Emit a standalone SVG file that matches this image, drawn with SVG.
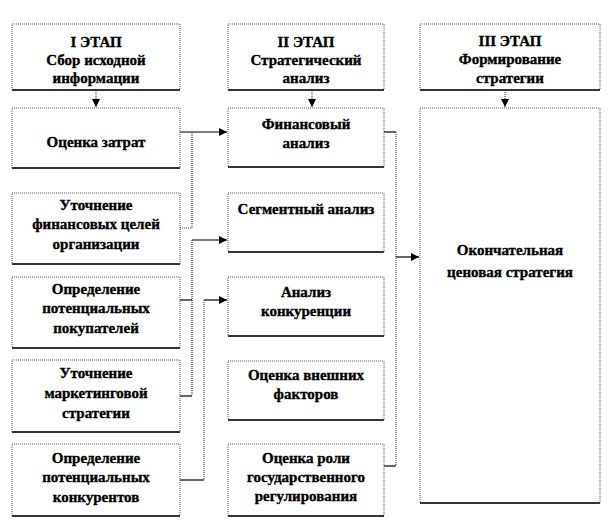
<svg xmlns="http://www.w3.org/2000/svg" width="612" height="528" viewBox="0 0 612 528">
<style>
.box{fill:#fff;stroke:#555;stroke-width:1;stroke-dasharray:1 1}
.base{stroke:#000;stroke-width:1.5}
.h{stroke:#000;stroke-width:1.2;fill:none}
.v{stroke:#444;stroke-width:1.2;stroke-dasharray:1 1;fill:none}
</style>
<defs>
<marker id="ar" viewBox="0 0 8 8" refX="8" refY="4" markerWidth="8" markerHeight="8" markerUnits="userSpaceOnUse" orient="auto">
<path d="M0,0 L8,4 L0,8 z" fill="#000"/>
</marker>
</defs>
<rect width="612" height="528" fill="#fff"/>

<g id="connectors">
<line class="v" x1="96" y1="90" x2="96" y2="107" marker-end="url(#ar)"/>
<line class="v" x1="312" y1="90" x2="312" y2="107" marker-end="url(#ar)"/>
<line class="v" x1="505" y1="90" x2="505" y2="107" marker-end="url(#ar)"/>

<line class="h" x1="180" y1="132" x2="227" y2="132" marker-end="url(#ar)"/>
<polyline class="v" points="180,228 192,228 192,132"/>

<line class="h" x1="192" y1="240" x2="227" y2="240" marker-end="url(#ar)"/>
<line class="v" x1="192" y1="240" x2="192" y2="396"/>
<line class="h" x1="180" y1="300" x2="192" y2="300"/>
<line class="h" x1="180" y1="396" x2="192" y2="396"/>

<line class="h" x1="204" y1="300" x2="227" y2="300" marker-end="url(#ar)"/>
<line class="v" x1="204" y1="300" x2="204" y2="480"/>
<line class="h" x1="180" y1="480" x2="204" y2="480"/>

<line class="h" x1="384" y1="132" x2="396" y2="132"/>
<line class="v" x1="396" y1="132" x2="396" y2="466"/>
<line class="h" x1="384" y1="466" x2="396" y2="466"/>
<line class="h" x1="396" y1="257" x2="419" y2="257" marker-end="url(#ar)"/>
</g>

<g font-family="'Liberation Serif', 'Times New Roman', 'DejaVu Serif', serif" font-weight="bold" font-size="15" text-anchor="middle" fill="#000">
<g id="stage1">
<rect class="box" x="12" y="24" width="168" height="66"/><line class="base" x1="12" y1="90" x2="180" y2="90"/>
<g stroke="#000" stroke-width="0.35"><text x="96" y="47">I ЭТАП</text><text x="96" y="65">Сбор исходной</text><text x="96" y="83">информации</text></g>
</g>
<g id="costs">
<rect class="box" x="12" y="108" width="168" height="60"/><line class="base" x1="12" y1="168" x2="180" y2="168"/>
<g stroke="#000" stroke-width="0.35"><text x="96" y="147">Оценка затрат</text></g>
</g>
<g id="fin-goals">
<rect class="box" x="12" y="193" width="168" height="71"/><line class="base" x1="12" y1="264" x2="180" y2="264"/>
<g stroke="#000" stroke-width="0.35"><text x="96" y="210">Уточнение</text><text x="96" y="229">финансовых целей</text><text x="96" y="249">организации</text></g>
</g>
<g id="buyers">
<rect class="box" x="12" y="277" width="168" height="71"/><line class="base" x1="12" y1="348" x2="180" y2="348"/>
<g stroke="#000" stroke-width="0.35"><text x="96" y="294">Определение</text><text x="96" y="313">потенциальных</text><text x="96" y="333">покупателей</text></g>
</g>
<g id="marketing">
<rect class="box" x="12" y="360" width="168" height="72"/><line class="base" x1="12" y1="432" x2="180" y2="432"/>
<g stroke="#000" stroke-width="0.35"><text x="96" y="378">Уточнение</text><text x="96" y="398">маркетинговой</text><text x="96" y="418">стратегии</text></g>
</g>
<g id="competitors">
<rect class="box" x="12" y="444" width="168" height="72"/><line class="base" x1="12" y1="516" x2="180" y2="516"/>
<g stroke="#000" stroke-width="0.35"><text x="96" y="463">Определение</text><text x="96" y="482">потенциальных</text><text x="96" y="502">конкурентов</text></g>
</g>

<g id="stage2">
<rect class="box" x="228" y="24" width="156" height="66"/><line class="base" x1="228" y1="90" x2="384" y2="90"/>
<g stroke="#000" stroke-width="0.35"><text x="306" y="47">II ЭТАП</text><text x="306" y="65">Стратегический</text><text x="306" y="83">анализ</text></g>
</g>
<g id="fin-analysis">
<rect class="box" x="228" y="108" width="156" height="59"/><line class="base" x1="228" y1="167" x2="384" y2="167"/>
<g stroke="#000" stroke-width="0.35"><text x="306" y="129">Финансовый</text><text x="306" y="148">анализ</text></g>
</g>
<g id="segment">
<rect class="box" x="228" y="193" width="156" height="59"/><line class="base" x1="228" y1="252" x2="384" y2="252"/>
<g stroke="#000" stroke-width="0.35"><text x="306" y="214">Сегментный анализ</text></g>
</g>
<g id="competition">
<rect class="box" x="228" y="277" width="156" height="59"/><line class="base" x1="228" y1="336" x2="384" y2="336"/>
<g stroke="#000" stroke-width="0.35"><text x="306" y="297">Анализ</text><text x="306" y="316">конкуренции</text></g>
</g>
<g id="external">
<rect class="box" x="228" y="361" width="156" height="59"/><line class="base" x1="228" y1="420" x2="384" y2="420"/>
<g stroke="#000" stroke-width="0.35"><text x="306" y="380">Оценка внешних</text><text x="306" y="399">факторов</text></g>
</g>
<g id="state">
<rect class="box" x="228" y="444" width="156" height="72"/><line class="base" x1="228" y1="516" x2="384" y2="516"/>
<g stroke="#000" stroke-width="0.35"><text x="306" y="463">Оценка роли</text><text x="306" y="482">государственного</text><text x="306" y="501">регулирования</text></g>
</g>

<g id="stage3">
<rect class="box" x="420" y="24" width="180" height="66"/><line class="base" x1="420" y1="90" x2="600" y2="90"/>
<g stroke="#000" stroke-width="0.35"><text x="510" y="46">III ЭТАП</text><text x="510" y="64">Формирование</text><text x="510" y="83">стратегии</text></g>
</g>
<g id="final">
<rect class="box" x="420" y="108" width="180" height="395"/><line class="base" x1="420" y1="503" x2="600" y2="503"/>
<g stroke="#000" stroke-width="0.35"><text x="510" y="255">Окончательная</text><text x="510" y="277">ценовая стратегия</text></g>
</g>
</g>
</svg>
